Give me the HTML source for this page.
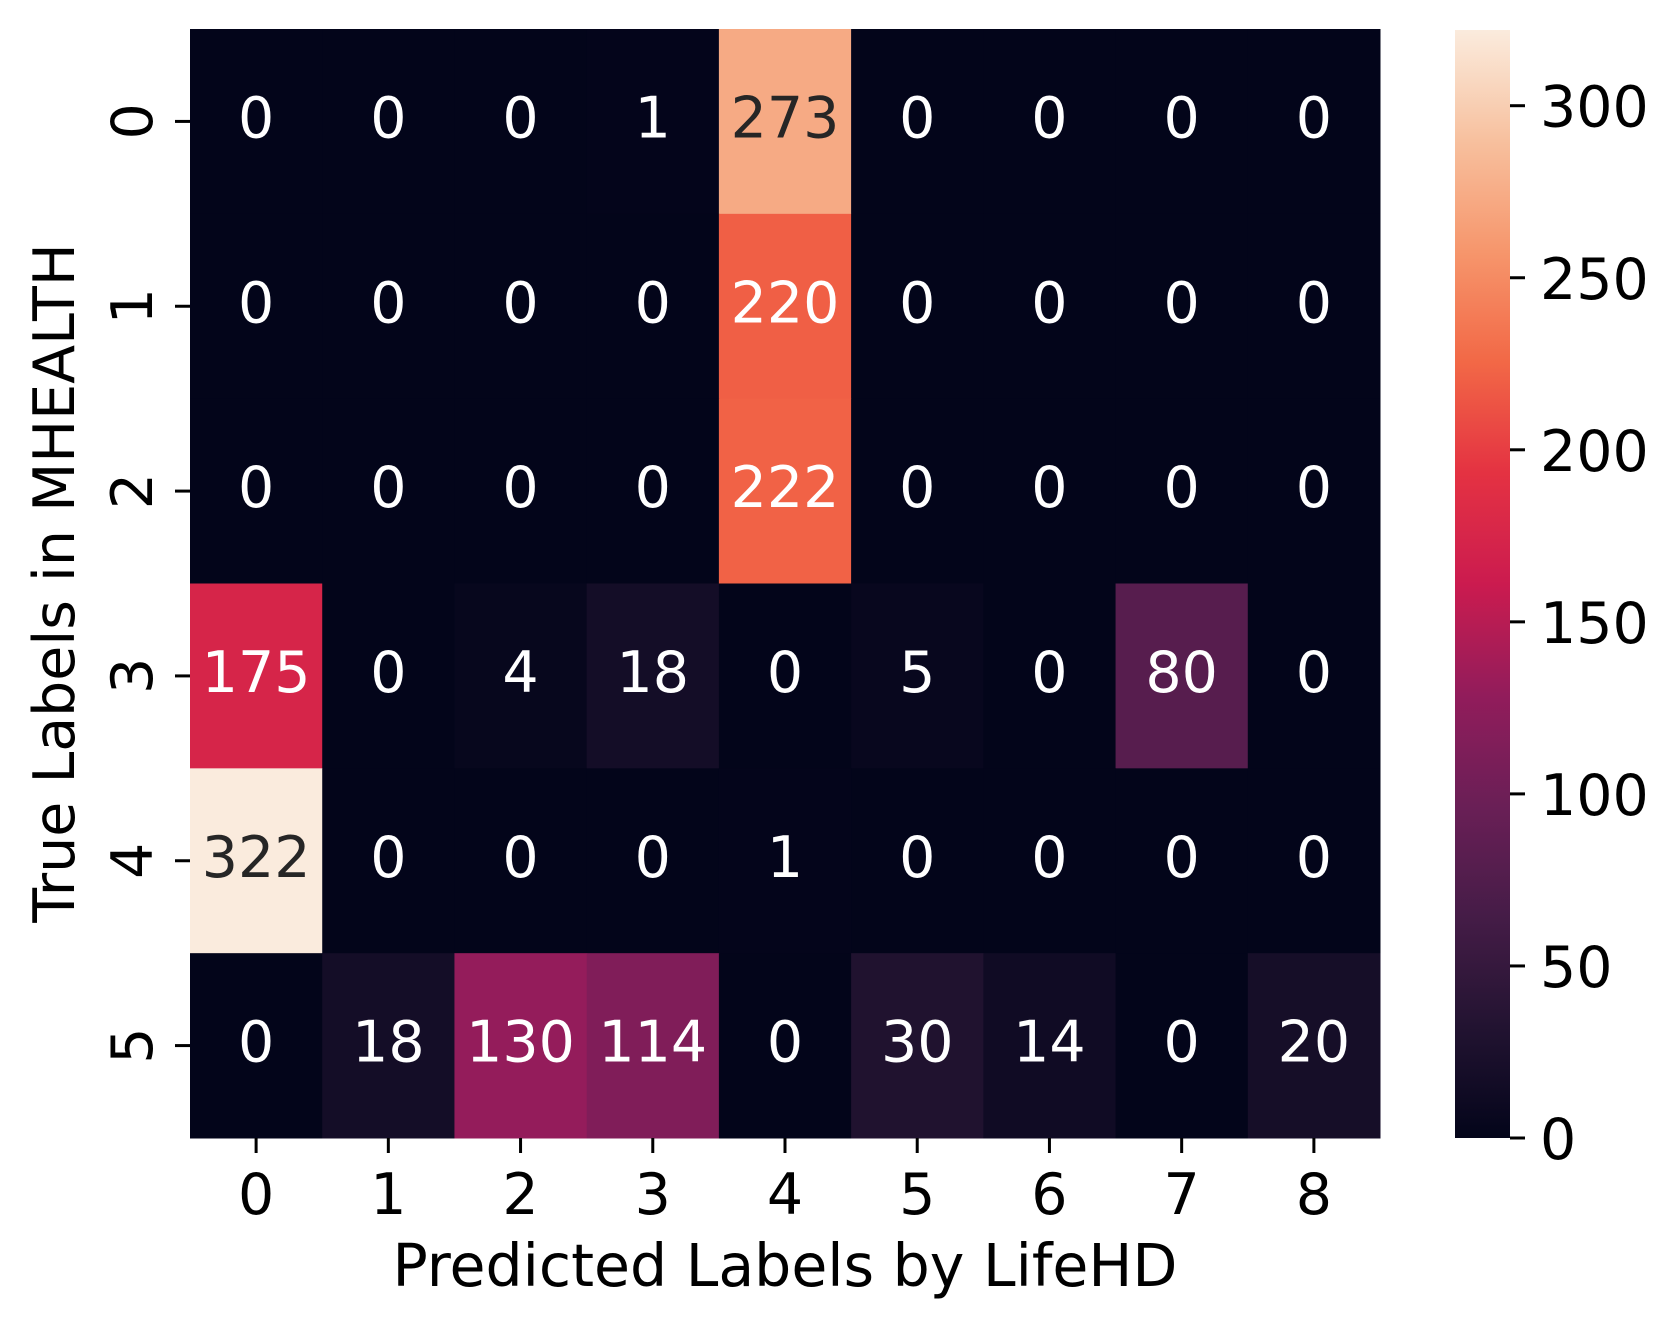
<!DOCTYPE html>
<html><head><meta charset="utf-8"><style>
html,body{margin:0;padding:0;background:#fff;}
svg{display:block;font-family:"DejaVu Sans","Liberation Sans",sans-serif;}
</style></head><body>
<svg id="chart" width="1680" height="1328" viewBox="0 0 1680 1328" xmlns="http://www.w3.org/2000/svg">
<defs><linearGradient id="cbgrad" x1="0" y1="1" x2="0" y2="0"></linearGradient></defs>
<g id="cells"></g>
<g id="xticks"></g>
<g id="yticks"></g>
<g id="cbar"></g>
<text x="785" y="1286" font-size="58.5" text-anchor="middle">Predicted Labels by LifeHD</text>
<text transform="translate(74,583) rotate(-90)" font-size="57" text-anchor="middle">True Labels in MHEALTH</text>
</svg>
<script>
const xCategories = ["0","1","2","3","4","5","6","7","8"];
const yCategories = ["0","1","2","3","4","5"];
const row0 = [0,0,0,1,273,0,0,0,0];
const row1 = [0,0,0,0,220,0,0,0,0];
const row2 = [0,0,0,0,222,0,0,0,0];
const row3 = [175,0,4,18,0,5,0,80,0];
const row4 = [322,0,0,0,1,0,0,0,0];
const row5 = [0,18,130,114,0,30,14,0,20];
const colorbarTicks = [0,50,100,150,200,250,300];

const matrix=[row0,row1,row2,row3,row4,row5];
const L=190,R=1380,T=29,B=1138;
const vmin=0, vmax=Math.max(...matrix.flat());
const cw=(R-L)/xCategories.length, ch=(B-T)/yCategories.length;
const xPos=i=>L+i*cw, yPos=j=>T+j*ch;
const stops=[[3,5,26],[34,19,49],[69,28,71],[106,31,86],[146,28,91],[203,27,79],[228,50,66],[242,104,70],[246,150,108],[247,192,158],[250,235,221]];
function rocket(t){t=Math.max(0,Math.min(1,t));const p=t*(stops.length-1);const i=Math.min(Math.floor(p),stops.length-2);const f=p-i;
 const c=stops[i].map((v,k)=>Math.round(v+(stops[i+1][k]-v)*f));return c;}
const css=c=>`rgb(${c[0]},${c[1]},${c[2]})`;
function lum(c){const l=c.map(v=>{v/=255;return v<=0.03928?v/12.92:Math.pow((v+0.055)/1.055,2.4)});return 0.2126*l[0]+0.7152*l[1]+0.0722*l[2];}
const NS="http://www.w3.org/2000/svg";
function mk(tag,attrs,parent){const e=document.createElementNS(NS,tag);for(const k in attrs)e.setAttribute(k,attrs[k]);parent.appendChild(e);return e;}
const cells=document.getElementById('cells');
matrix.forEach((row,j)=>row.forEach((v,i)=>{
 const c=rocket((v-vmin)/(vmax-vmin));
 const r=mk('rect',{x:xPos(i),y:yPos(j),width:cw+0.5,height:ch+0.5,fill:css(c)},cells);
 
 
 const t=mk('text',{x:xPos(i)+cw/2,y:yPos(j)+ch/2+16,'font-size':57,'text-anchor':'middle',fill:lum(c)>0.408?'#262626':'#ffffff'},cells);
 
 
 t.textContent=v;
}));
const xg=document.getElementById('xticks');
xCategories.forEach((lab,i)=>{const x=xPos(i)+cw/2;
 mk('line',{x1:x,x2:x,y1:B,y2:B+15,stroke:'#000','stroke-width':3},xg);
 const t=mk('text',{x:x,y:B+76,'font-size':57,'text-anchor':'middle'},xg);
 
 
 t.textContent=lab;});
const yg=document.getElementById('yticks');
yCategories.forEach((lab,j)=>{const y=yPos(j)+ch/2;
 mk('line',{x1:L-15,x2:L,y1:y,y2:y,stroke:'#000','stroke-width':3},yg);
 const t=mk('text',{transform:`translate(152,${y}) rotate(-90)`,'font-size':57,'text-anchor':'middle'},yg);
 
 
 t.textContent=lab;});
const grad=document.getElementById('cbgrad');
for(let k=0;k<=20;k++){mk('stop',{offset:(k/20),'stop-color':css(rocket(k/20))},grad);}
const cg=document.getElementById('cbar');
const cbL=1455,cbR=1510,cbT=30,cbB=1138;
const r=mk('rect',{x:cbL,y:cbT,width:cbR-cbL,height:cbB-cbT,fill:'url(#cbgrad)'},cg);


const cy=v=>cbB-(v-vmin)/(vmax-vmin)*(cbB-cbT);
colorbarTicks.forEach(v=>{const y=cy(v);
 mk('line',{x1:cbR,x2:cbR+15,y1:y,y2:y,stroke:'#000','stroke-width':3},cg);
 const t=mk('text',{x:1540,y:y+21,'font-size':57},cg);
 
 
 t.textContent=v;});
</script>
</body></html>
